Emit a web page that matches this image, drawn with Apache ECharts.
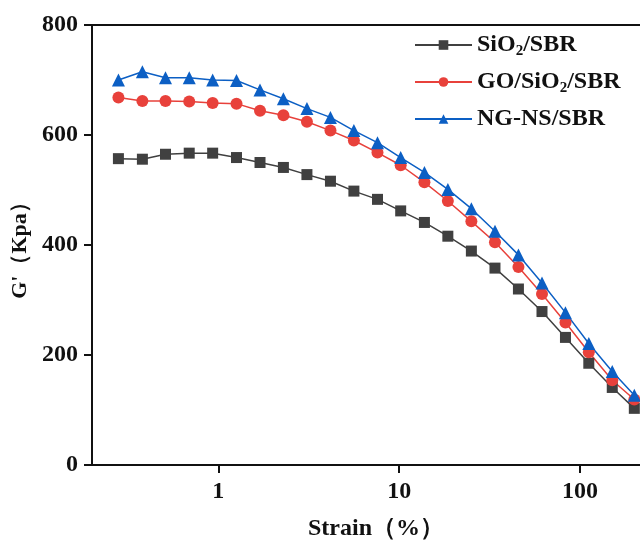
<!DOCTYPE html>
<html>
<head>
<meta charset="utf-8">
<script src="https://cdn.jsdelivr.net/npm/echarts@6/dist/echarts.min.js"></script>
<style>
  html, body { margin: 0; padding: 0; background: #fff; }
  #chart { width: 640px; height: 546px; }
</style>
</head>
<body>
<div id="chart"></div>
<script>
// strain (%)
const strain = [0.28, 0.38, 0.51, 0.69, 0.93, 1.26, 1.7, 2.29, 3.09, 4.17, 5.62, 7.59,
  10.2, 13.8, 18.6, 25.1, 33.9, 45.7, 61.7, 83.2, 112, 151, 200]

// G' (Kpa)
const sio2Sbr = [557, 556, 565, 567, 567, 559, 550, 541, 528, 516, 498, 483,
  462, 441, 416, 389, 358, 320, 279, 232, 185, 141, 103]
const goSio2Sbr = [668, 662, 662, 661, 658, 657, 644, 636, 624, 608, 590, 568,
  545, 514, 480, 443, 405, 360, 311, 259, 205, 154, 119]
const ngNsSbr = [700, 715, 704, 704, 700, 699, 682, 666, 648, 632, 608, 586,
  559, 532, 501, 466, 425, 382, 331, 277, 221, 170, 127]

const seriesNames = ['SiO2/SBR', 'GO/SiO2/SBR', 'NG-NS/SBR']
const yTicks = [0, 200, 400, 600, 800]
const xTicks = [1, 10, 100]

const FONT = '"Liberation Serif", "DejaVu Serif", serif'

const pair = vals => strain.map((s, i) => [s, vals[i]])

const chart = echarts.init(document.getElementById('chart'))

const mkSeries = (name, vals, color, symbol, size) => ({
  name,
  type: 'line',
  data: pair(vals),
  symbol,
  symbolSize: size,
  lineStyle: { color, width: 1.5 },
  itemStyle: { color },
  z: 3
})

chart.setOption({
  animation: false,
  grid: { left: 92, top: 25, right: 0, bottom: 79 },
  legend: {
    orient: 'vertical',
    left: 409,
    top: 28,
    itemWidth: 57,
    itemHeight: 12,
    itemGap: 11,
    data: seriesNames,
    formatter: name => name.replace('2', '{sub|2}'),
    textStyle: {
      fontFamily: FONT,
      fontWeight: 'bold',
      fontSize: 24,
      color: '#111',
      rich: {
        sub: {
          fontFamily: FONT,
          fontWeight: 'bold',
          fontSize: 15,
          color: '#111',
          padding: [13, 0, 0, 0]
        }
      }
    }
  },
  xAxis: [
    {
      type: 'log',
      logBase: 10,
      min: 0.2,
      max: 215,
      name: 'Strain（%）',
      nameLocation: 'middle',
      nameGap: 52,
      nameTextStyle: { fontFamily: FONT, fontWeight: 'bold', fontSize: 24, color: '#111', padding: [0, 0, 0, 20] },
      axisLine: { lineStyle: { color: '#111', width: 2 } },
      axisTick: { show: true, inside: false, length: 8, lineStyle: { width: 2, color: '#111' }, customValues: xTicks },
      axisLabel: { fontFamily: FONT, fontWeight: 'bold', fontSize: 24, color: '#111', margin: 15, customValues: xTicks },
      splitLine: { show: false },
      minorTick: { show: false }
    },
    {
      type: 'log',
      position: 'top',
      min: 0.2,
      max: 215,
      axisLine: { show: true, lineStyle: { color: '#111', width: 2 } },
      axisTick: { show: false },
      axisLabel: { show: false },
      splitLine: { show: false }
    }
  ],
  yAxis: {
    type: 'value',
    min: 0,
    max: 800,
    interval: 200,
    name: 'G\'（Kpa）',
    nameLocation: 'middle',
    nameGap: 60,
    nameTextStyle: { fontFamily: FONT, fontWeight: 'bold', fontSize: 22, color: '#111' },
    axisLine: { show: true, lineStyle: { color: '#111', width: 2 } },
    axisTick: { show: true, inside: false, length: 8, lineStyle: { width: 2, color: '#111' }, customValues: yTicks },
    axisLabel: { fontFamily: FONT, fontWeight: 'bold', fontSize: 24, color: '#111', margin: 14, customValues: yTicks },
    splitLine: { show: false }
  },
  series: [
    mkSeries(seriesNames[0], sio2Sbr, '#404040', 'rect', 11),
    mkSeries(seriesNames[1], goSio2Sbr, '#e8413b', 'circle', 12),
    mkSeries(seriesNames[2], ngNsSbr, '#0c5fc4', 'triangle', 13)
  ]
})
</script>
</body>
</html>
